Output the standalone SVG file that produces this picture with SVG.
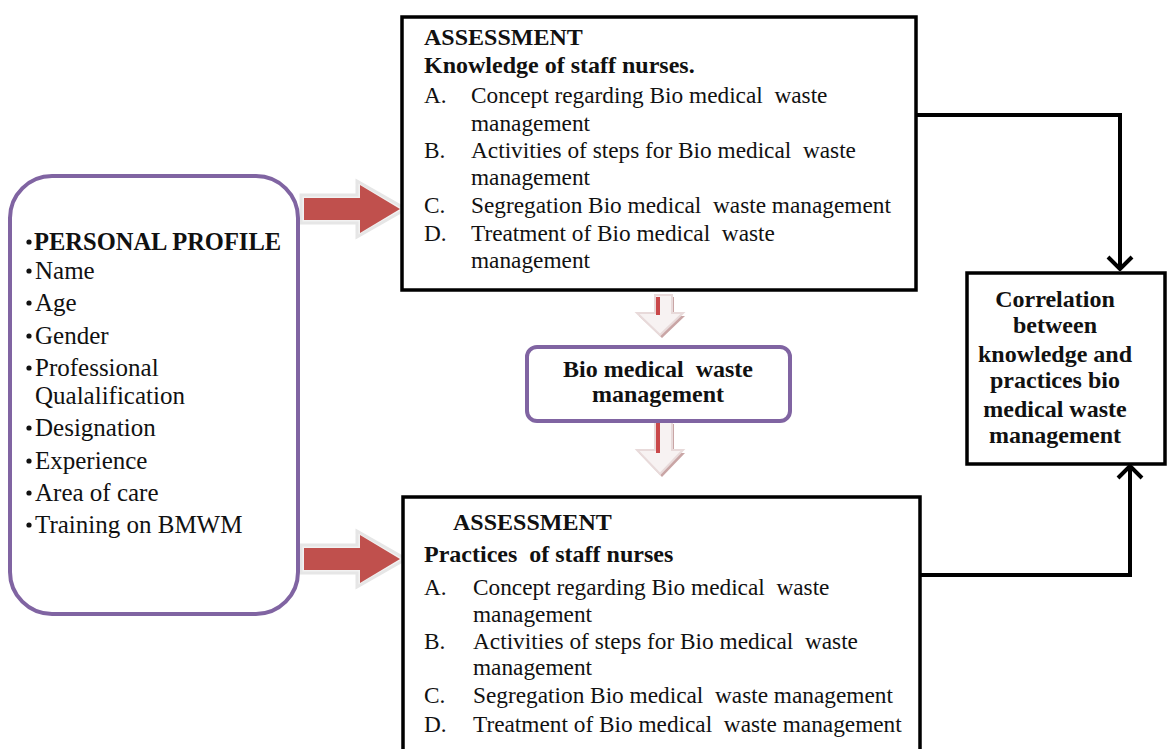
<svg xmlns="http://www.w3.org/2000/svg" width="1167" height="749" viewBox="0 0 1167 749">
<defs>
<style>
text{font-family:"Liberation Serif","Times New Roman",serif;fill:#111;white-space:pre;}
.t{font-size:23.3px;}
.b{font-size:24px;font-weight:bold;}
.lt{font-size:25px;}
.lb{font-size:24.5px;font-weight:bold;}
.dot{fill:#111;}
.box{fill:#fff;stroke:#000;stroke-width:3.5;}
.pbox{fill:#fff;stroke:#8064a2;stroke-width:4;}
.conn{fill:none;stroke:#000;stroke-width:4;}
.ra-sh{fill:#a98080;}
.ra-ol{fill:#f2f2f2;stroke:#e6e6e6;stroke-width:3;}
.ra{fill:#c0504d;}
.da-sh{fill:#c9a5a5;}
.da{fill:#f7f2f2;stroke:#e8dada;stroke-width:2;}
.da-s{fill:#c9484a;}
</style>
<marker id="chev" markerUnits="userSpaceOnUse" viewBox="0 0 16 28" markerWidth="16" markerHeight="28" refX="14" refY="14" orient="auto">
<path d="M2,2 L14,14 L2,26" fill="none" stroke="#000" stroke-width="4"/>
</marker>
</defs>
<rect width="1167" height="749" fill="#fff"/>

<g id="connectors">
<path class="conn" d="M916,115 H1120 V269" marker-end="url(#chev)"/>
<path class="conn" d="M920,575 H1130 V466" marker-end="url(#chev)"/>
<g id="arrow-right-1">
<polygon class="ra-sh" points="303,202 360,202 360,190 402,212 360,236 360,224 303,224"/>
<polygon class="ra-ol" points="301,195 357,195 357,181 406,209 357,237 357,223 301,223"/>
<polygon class="ra" points="304,198 360,198 360,185 400,209 360,233 360,220 304,220"/>
</g>
<g id="arrow-right-2">
<polygon class="ra-sh" points="303,552 360,552 360,540 402,562 360,586 360,574 303,574"/>
<polygon class="ra-ol" points="301,545 357,545 357,531 406,559 357,587 357,573 301,573"/>
<polygon class="ra" points="304,548 360,548 360,535 400,559 360,583 360,570 304,570"/>
</g>
<g id="arrow-down-1">
<polygon class="da-sh" points="657,297 674,297 674,316 685,316 662,338 639,316 657,316"/>
<polygon class="da" points="655,295 672,295 672,313 683,313 660,335 637,313 655,313"/>
<rect class="da-s" x="656" y="297" width="4" height="18"/>
</g>
<g id="arrow-down-2">
<polygon class="da-sh" points="657,424 674,424 674,453 685,453 662,477 639,453 657,453"/>
<polygon class="da" points="655,422 672,422 672,450 683,450 660,474 637,450 655,450"/>
<rect class="da-s" x="656" y="422" width="4" height="31"/>
</g>
</g>

<g id="personal-profile">
<rect class="pbox" x="10" y="176" width="288" height="438" rx="42"/>
<circle class="dot" cx="29" cy="242" r="2.6"/>
<text x="34" y="250" class="lb">PERSONAL PROFILE</text>
<circle class="dot" cx="29" cy="271" r="2.6"/><text x="35" y="279" class="lt">Name</text>
<circle class="dot" cx="29" cy="303" r="2.6"/><text x="35" y="311" class="lt">Age</text>
<circle class="dot" cx="29" cy="336" r="2.6"/><text x="35" y="344" class="lt">Gender</text>
<circle class="dot" cx="29" cy="368" r="2.6"/><text x="35" y="376" class="lt">Professional</text>
<text x="35" y="404" class="lt">Qualalification</text>
<circle class="dot" cx="29" cy="428" r="2.6"/><text x="35" y="436" class="lt">Designation</text>
<circle class="dot" cx="29" cy="461" r="2.6"/><text x="35" y="469" class="lt">Experience</text>
<circle class="dot" cx="29" cy="493" r="2.6"/><text x="35" y="501" class="lt">Area of care</text>
<circle class="dot" cx="29" cy="525" r="2.6"/><text x="35" y="533" class="lt">Training on BMWM</text>
</g>

<g id="assessment-knowledge">
<rect class="box" x="402" y="17" width="514" height="273"/>
<text x="424" y="45" class="b">ASSESSMENT</text>
<text x="424" y="73" class="b">Knowledge of staff nurses.</text>
<text x="424" y="103" class="t">A.</text><text x="471" y="103" class="t">Concept regarding Bio medical  waste</text>
<text x="471" y="131" class="t">management</text>
<text x="424" y="158" class="t">B.</text><text x="471" y="158" class="t">Activities of steps for Bio medical  waste</text>
<text x="471" y="185" class="t">management</text>
<text x="424" y="213" class="t">C.</text><text x="471" y="213" class="t">Segregation Bio medical  waste management</text>
<text x="424" y="241" class="t">D.</text><text x="471" y="241" class="t">Treatment of Bio medical  waste</text>
<text x="471" y="268" class="t">management</text>
</g>

<g id="bmwm">
<rect class="pbox" x="527" y="347" width="263" height="74" rx="10"/>
<text x="658" y="377" class="b" text-anchor="middle">Bio medical  waste</text>
<text x="658" y="402" class="b" text-anchor="middle">management</text>
</g>

<g id="assessment-practices">
<rect class="box" x="403" y="497" width="517" height="270"/>
<text x="453" y="530" class="b">ASSESSMENT</text>
<text x="424" y="562" class="b">Practices  of staff nurses</text>
<text x="424" y="595" class="t">A.</text><text x="473" y="595" class="t">Concept regarding Bio medical  waste</text>
<text x="473" y="622" class="t">management</text>
<text x="424" y="649" class="t">B.</text><text x="473" y="649" class="t">Activities of steps for Bio medical  waste</text>
<text x="473" y="675" class="t">management</text>
<text x="424" y="703" class="t">C.</text><text x="473" y="703" class="t">Segregation Bio medical  waste management</text>
<text x="424" y="732" class="t">D.</text><text x="473" y="732" class="t">Treatment of Bio medical  waste management</text>
</g>

<g id="correlation">
<rect class="box" x="967" y="273" width="198" height="191"/>
<text x="1055" y="307" class="b" text-anchor="middle">Correlation</text>
<text x="1055" y="333" class="b" text-anchor="middle">between</text>
<text x="1055" y="362" class="b" text-anchor="middle">knowledge and</text>
<text x="1055" y="388" class="b" text-anchor="middle">practices bio</text>
<text x="1055" y="417" class="b" text-anchor="middle">medical waste</text>
<text x="1055" y="443" class="b" text-anchor="middle">management</text>
</g>
</svg>
